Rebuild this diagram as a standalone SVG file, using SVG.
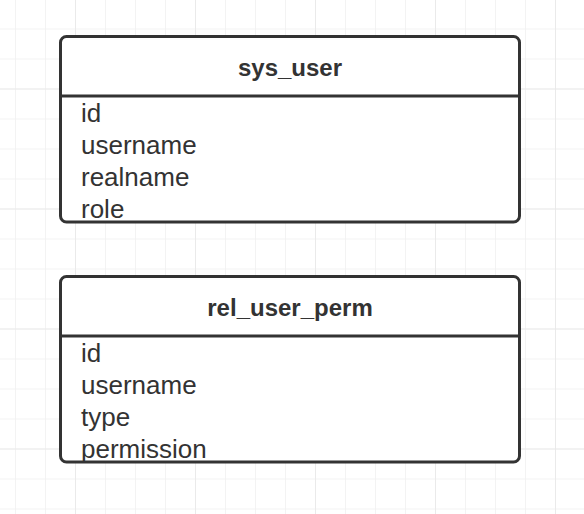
<svg xmlns="http://www.w3.org/2000/svg" width="584" height="514" viewBox="0 0 584 514">
<defs>
<style>
.box{fill:#ffffff;stroke:#333333;stroke-width:3}
.sep{stroke:#333333;stroke-width:3}
.title{font-family:"Liberation Sans",Arial,sans-serif;font-size:24px;font-weight:bold;fill:#333333;text-anchor:middle}
.field{font-family:"Liberation Sans",Arial,sans-serif;font-size:26px;fill:#333333}
.minor{stroke:#f0f0f0;stroke-width:1.5}
.major{stroke:#e8e8e8;stroke-width:1.5}
</style>
<pattern id="grid" x="15" y="28.5" width="30" height="30" patternUnits="userSpaceOnUse">
<path d="M0 0V30M0 0H30" class="minor" fill="none"/>
</pattern>
<pattern id="gridMajor" x="75" y="88.5" width="120" height="120" patternUnits="userSpaceOnUse">
<path d="M0 0V120M0 0H120" class="major" fill="none"/>
</pattern>
</defs>
<rect width="584" height="514" fill="#ffffff"/>
<rect width="584" height="514" fill="url(#grid)"/>
<rect width="584" height="514" fill="url(#gridMajor)"/>
<g id="connectors"></g>
<g id="sys_user">
<rect class="box" x="60.5" y="36.5" width="459" height="185.5" rx="6"/>
<line class="sep" x1="60.5" y1="96" x2="519.5" y2="96"/>
<text class="title" x="290" y="76">sys_user</text>
<text class="field" x="81" y="122">id</text>
<text class="field" x="81" y="154">username</text>
<text class="field" x="81" y="186">realname</text>
<text class="field" x="81" y="218">role</text>
</g>
<g id="rel_user_perm">
<rect class="box" x="60.5" y="276.5" width="459" height="185.5" rx="6"/>
<line class="sep" x1="60.5" y1="336" x2="519.5" y2="336"/>
<text class="title" x="290" y="316">rel_user_perm</text>
<text class="field" x="81" y="362">id</text>
<text class="field" x="81" y="394">username</text>
<text class="field" x="81" y="426">type</text>
<text class="field" x="81" y="458">permission</text>
</g>
</svg>
